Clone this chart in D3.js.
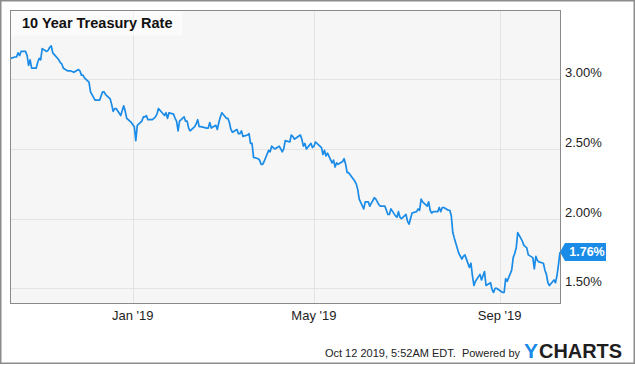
<!DOCTYPE html>
<html><head><meta charset="utf-8">
<script src="https://cdn.jsdelivr.net/npm/d3@7"></script>
<style>html,body{margin:0;padding:0;background:#fff;}svg{display:block;font-family:"Liberation Sans",Arial,sans-serif;}</style>
</head><body><svg id="c" width="635" height="366"></svg>
<script>
const title = "10 Year Treasury Rate";
const yTicks = [1.5, 2.0, 2.5, 3.0];
const xTickDates = ["2019-01-01", "2019-05-01", "2019-09-01"];
const xTickLabels = ["Jan '19", "May '19", "Sep '19"];
const lastLabel = "1.76%";
const footerText = "Oct 12 2019, 5:52AM EDT.  Powered by";
const dates = [
"2018-10-12","2018-10-15","2018-10-16","2018-10-17","2018-10-18","2018-10-19","2018-10-22","2018-10-23","2018-10-24","2018-10-25","2018-10-26","2018-10-29","2018-10-30","2018-10-31",
"2018-11-01","2018-11-02","2018-11-05","2018-11-06","2018-11-07","2018-11-08","2018-11-09","2018-11-13","2018-11-14","2018-11-15","2018-11-16","2018-11-19","2018-11-20","2018-11-21","2018-11-23","2018-11-26","2018-11-27","2018-11-28","2018-11-29","2018-11-30",
"2018-12-03","2018-12-04","2018-12-06","2018-12-07","2018-12-10","2018-12-11","2018-12-12","2018-12-13","2018-12-14","2018-12-17","2018-12-18","2018-12-19","2018-12-20","2018-12-21","2018-12-24","2018-12-26","2018-12-27","2018-12-28","2018-12-31",
"2019-01-02","2019-01-03","2019-01-04","2019-01-07","2019-01-08","2019-01-09","2019-01-10","2019-01-11","2019-01-14","2019-01-15","2019-01-16","2019-01-17","2019-01-18","2019-01-22","2019-01-23","2019-01-24","2019-01-25","2019-01-28","2019-01-29","2019-01-30","2019-01-31",
"2019-02-01","2019-02-04","2019-02-05","2019-02-06","2019-02-07","2019-02-08","2019-02-11","2019-02-12","2019-02-13","2019-02-14","2019-02-15","2019-02-19","2019-02-20","2019-02-21","2019-02-22","2019-02-25","2019-02-26","2019-02-27","2019-02-28",
"2019-03-01","2019-03-04","2019-03-05","2019-03-06","2019-03-07","2019-03-08","2019-03-11","2019-03-12","2019-03-13","2019-03-14","2019-03-15","2019-03-18","2019-03-19","2019-03-20","2019-03-21","2019-03-22","2019-03-25","2019-03-26","2019-03-27","2019-03-28","2019-03-29",
"2019-04-01","2019-04-02","2019-04-03","2019-04-04","2019-04-05","2019-04-08","2019-04-09","2019-04-10","2019-04-11","2019-04-12","2019-04-15","2019-04-16","2019-04-17","2019-04-18","2019-04-22","2019-04-23","2019-04-24","2019-04-25","2019-04-26","2019-04-29","2019-04-30",
"2019-05-01","2019-05-02","2019-05-03","2019-05-06","2019-05-07","2019-05-08","2019-05-09","2019-05-10","2019-05-13","2019-05-14","2019-05-15","2019-05-16","2019-05-17","2019-05-20","2019-05-21","2019-05-22","2019-05-23","2019-05-24","2019-05-28","2019-05-29","2019-05-30","2019-05-31",
"2019-06-03","2019-06-04","2019-06-05","2019-06-06","2019-06-07","2019-06-10","2019-06-11","2019-06-12","2019-06-13","2019-06-14","2019-06-17","2019-06-18","2019-06-19","2019-06-20","2019-06-21","2019-06-24","2019-06-25","2019-06-26","2019-06-27","2019-06-28",
"2019-07-01","2019-07-02","2019-07-03","2019-07-05","2019-07-08","2019-07-09","2019-07-10","2019-07-11","2019-07-12","2019-07-15","2019-07-16","2019-07-17","2019-07-18","2019-07-19","2019-07-22","2019-07-23","2019-07-24","2019-07-25","2019-07-26","2019-07-29","2019-07-30","2019-07-31",
"2019-08-01","2019-08-02","2019-08-05","2019-08-06","2019-08-07","2019-08-08","2019-08-09","2019-08-12","2019-08-13","2019-08-14","2019-08-15","2019-08-16","2019-08-19","2019-08-20","2019-08-21","2019-08-22","2019-08-23","2019-08-26","2019-08-27","2019-08-28","2019-08-29","2019-08-30",
"2019-09-03","2019-09-04","2019-09-05","2019-09-06","2019-09-09","2019-09-10","2019-09-11","2019-09-12","2019-09-13","2019-09-16","2019-09-17","2019-09-18","2019-09-19","2019-09-20","2019-09-23","2019-09-24","2019-09-25","2019-09-26","2019-09-27","2019-09-30",
"2019-10-01","2019-10-02","2019-10-03","2019-10-04","2019-10-07","2019-10-08","2019-10-09","2019-10-10","2019-10-11"
];
const rates = [
3.15,3.16,3.16,3.19,3.17,3.20,3.20,3.17,3.10,3.14,3.08,3.08,3.12,3.15,
3.14,3.22,3.20,3.21,3.23,3.24,3.19,3.14,3.12,3.11,3.08,3.06,3.06,3.06,3.05,3.07,3.06,3.03,3.03,3.01,
2.98,2.91,2.87,2.85,2.85,2.88,2.91,2.91,2.89,2.86,2.82,2.77,2.79,2.79,2.74,2.81,2.77,2.72,2.69,
2.66,2.56,2.67,2.70,2.73,2.73,2.74,2.71,2.71,2.72,2.73,2.75,2.79,2.74,2.76,2.72,2.76,2.75,2.72,2.70,2.63,
2.70,2.73,2.70,2.70,2.65,2.63,2.66,2.68,2.71,2.66,2.66,2.65,2.65,2.69,2.65,2.67,2.64,2.69,2.73,
2.76,2.72,2.72,2.69,2.64,2.62,2.64,2.61,2.61,2.63,2.59,2.60,2.61,2.54,2.54,2.44,2.43,2.42,2.39,2.39,2.41,
2.49,2.48,2.52,2.51,2.50,2.52,2.50,2.48,2.50,2.56,2.55,2.60,2.59,2.57,2.60,2.57,2.52,2.54,2.50,2.54,2.51,
2.52,2.55,2.54,2.51,2.46,2.49,2.45,2.47,2.40,2.42,2.37,2.40,2.39,2.41,2.43,2.39,2.33,2.33,2.27,2.25,2.21,2.14,
2.07,2.12,2.12,2.12,2.09,2.15,2.14,2.12,2.10,2.09,2.09,2.06,2.03,2.03,2.07,2.02,2.01,2.05,2.01,2.00,
2.03,1.98,1.96,2.04,2.05,2.07,2.06,2.14,2.12,2.09,2.12,2.06,2.04,2.05,2.05,2.08,2.05,2.08,2.08,2.06,2.06,2.02,
1.90,1.86,1.75,1.73,1.71,1.73,1.74,1.65,1.68,1.59,1.52,1.55,1.60,1.56,1.59,1.62,1.52,1.54,1.49,1.47,1.50,1.50,
1.47,1.47,1.57,1.55,1.63,1.72,1.75,1.79,1.90,1.84,1.81,1.80,1.79,1.74,1.72,1.64,1.73,1.70,1.69,1.68,
1.63,1.60,1.54,1.52,1.56,1.54,1.59,1.67,1.76
];

const parse = d3.timeParse("%Y-%m-%d");
const data = dates.map((d, i) => ({date: parse(d), v: rates[i]}));

const svg = d3.select("#c");
const plot = {left: 10.5, top: 10.5, right: 560.5, bottom: 303.5};
const blue = "#1a8be6";

// outer frame
svg.append("rect").attr("x", 0.75).attr("y", 0.75).attr("width", 633.5).attr("height", 362.5)
  .attr("fill", "#fff").attr("stroke", "#8c8c8c").attr("stroke-width", 1.5);

const x = d3.scaleTime()
  .domain([parse("2018-10-12"), parse("2019-10-11")])
  .range([plot.left, plot.right - 0.5]);
const y = d3.scaleLinear().domain([1.5, 3.0]).range([288.3, 79.3]);

svg.append("rect").attr("x", plot.left).attr("y", plot.top)
  .attr("width", plot.right - plot.left).attr("height", plot.bottom - plot.top)
  .attr("fill", "#f6f6f6");

svg.append("clipPath").attr("id", "clip").append("rect")
  .attr("x", plot.left).attr("y", plot.top)
  .attr("width", plot.right - plot.left).attr("height", plot.bottom - plot.top);

// grid
const grid = svg.append("g");
grid.selectAll("line.h").data(yTicks).join("line")
  .attr("x1", plot.left).attr("x2", plot.right)
  .attr("y1", d => Math.round(y(d)) + 0.5).attr("y2", d => Math.round(y(d)) + 0.5)
  .attr("stroke", "#e3e3e3").attr("stroke-width", 1);
grid.selectAll("line.v").data(xTickDates).join("line")
  .attr("x1", d => Math.round(x(parse(d))) + 0.5).attr("x2", d => Math.round(x(parse(d))) + 0.5)
  .attr("y1", plot.top).attr("y2", plot.bottom)
  .attr("stroke", "#e3e3e3").attr("stroke-width", 1);

// title box
svg.append("rect").attr("x", plot.left).attr("y", plot.top).attr("width", 172).attr("height", 25)
  .attr("fill", "#ffffff").attr("fill-opacity", 0.55);
svg.append("text").attr("x", 22).attr("y", 27.5).text(title)
  .attr("font-size", 14.5).attr("font-weight", "bold").attr("fill", "#111");

// line
const line = d3.line().x(d => x(d.date)).y(d => y(d.v));
svg.append("path").datum(data).attr("d", line).attr("clip-path", "url(#clip)")
  .attr("fill", "none").attr("stroke", blue).attr("stroke-width", 1.7)
  .attr("stroke-linejoin", "round");

// plot border
svg.append("rect").attr("x", plot.left).attr("y", plot.top)
  .attr("width", plot.right - plot.left).attr("height", plot.bottom - plot.top)
  .attr("fill", "none").attr("stroke", "#8a8a8a").attr("stroke-width", 1);

// y labels
svg.selectAll("text.yl").data(yTicks).join("text")
  .attr("x", 565).attr("y", d => y(d) - 2)
  .attr("font-size", 13).attr("fill", "#222")
  .text(d => d3.format(".2f")(d) + "%");

// x labels
svg.selectAll("text.xl").data(xTickDates).join("text")
  .attr("x", d => x(parse(d))).attr("y", 319.5)
  .attr("text-anchor", "middle").attr("font-size", 13).attr("fill", "#222")
  .text((d, i) => xTickLabels[i]);

// last value label
const last = data[data.length - 1];
const ly = y(last.v);
const lx = x(last.date);
svg.append("path")
  .attr("d", `M${lx},${ly} L${lx + 5},${ly - 9} L${lx + 46},${ly - 9} L${lx + 46},${ly + 9} L${lx + 5},${ly + 9} Z`)
  .attr("fill", blue);
svg.append("text").attr("x", lx + 27).attr("y", ly + 4.3).attr("text-anchor", "middle")
  .attr("font-size", 12.5).attr("font-weight", "bold").attr("fill", "#fff").text(lastLabel);

// footer
svg.append("text").attr("x", 520).attr("y", 356.5).attr("text-anchor", "end")
  .attr("font-size", 11).attr("fill", "#222").style("white-space", "pre").text(footerText);
svg.append("text").attr("x", 524).attr("y", 357.5).attr("font-size", 21).attr("font-weight", "bold")
  .attr("fill", blue).text("Y");
svg.append("text").attr("x", 539).attr("y", 357.5).attr("font-size", 20).attr("font-weight", "bold")
  .attr("fill", "#1e1e1e").attr("textLength", 83).attr("lengthAdjust", "spacingAndGlyphs").text("CHARTS");
</script></body></html>
